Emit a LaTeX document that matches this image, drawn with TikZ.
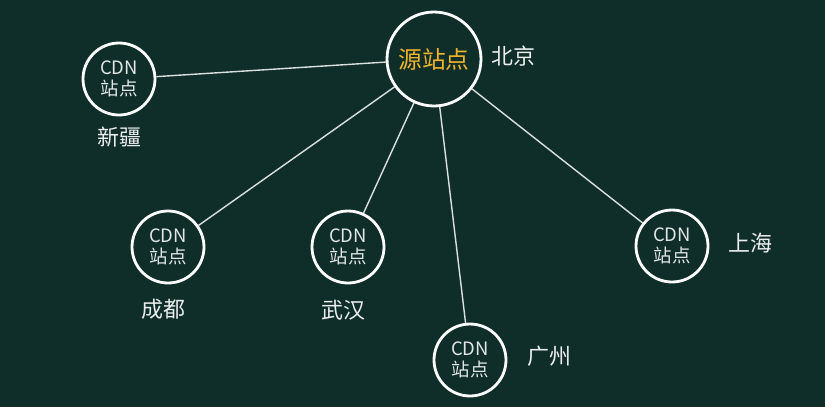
\documentclass[tikz,border=0pt]{standalone}
\usepackage{fontspec}
\setmainfont{Noto Sans CJK SC}
\usetikzlibrary{positioning}
\definecolor{bgteal}{HTML}{0F2E2A}
\definecolor{srcgold}{HTML}{F2B52A}

\begin{document}
\begin{tikzpicture}[
  x=0.02cm, y=-0.02cm,
  site/.style={circle, draw=white, line width=1.6pt, minimum size=1.44cm, inner sep=0pt,
    align=center, text=white!88!bgteal, font=\fontsize{10.5}{12}\selectfont},
  place/.style={inner sep=0pt, text=white!92!bgteal, font=\fontsize{12.5}{14}\selectfont},
  link/.style={draw=white!85!bgteal, line width=0.8pt}
]

\fill[bgteal] (0,0) rectangle (825,407);

\node[site, minimum size=1.88cm, text=srcgold, font=\fontsize{13.5}{15}\selectfont] (src) at (434,59) {源站点};

\node[site] (xj) at (119,79) {CDN\\站点};
\node[site] (cd) at (168,247) {CDN\\站点};
\node[site] (wh) at (348,247) {CDN\\站点};
\node[site] (gz) at (470,360) {CDN\\站点};
\node[site] (sh) at (672,246) {CDN\\站点};

\node[place, right=0.18cm of src, yshift=0.06cm] {北京};
\node[place, below=0.2cm of xj] {新疆};
\node[place, below=0.28cm of cd, xshift=-0.1cm] {成都};
\node[place, below=0.3cm of wh, xshift=-0.1cm] {武汉};
\node[place, right=0.4cm of gz, yshift=0.08cm] {广州};
\node[place, right=0.38cm of sh, yshift=0.06cm] {上海};

\draw[link] (src) -- (xj);
\draw[link] (src) -- (cd);
\draw[link] (src) -- (wh);
\draw[link] (src) -- (gz);
\draw[link] (src) -- (sh);

\end{tikzpicture}
\end{document}
